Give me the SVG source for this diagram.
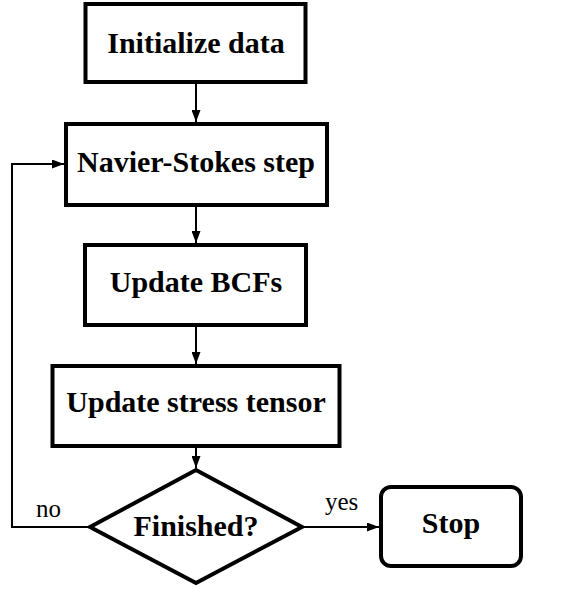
<svg xmlns="http://www.w3.org/2000/svg" width="570" height="590" viewBox="0 0 570 590">
  <style>
    .box { fill: #ffffff; stroke: #000000; stroke-width: 4; }
    .lbl { font-family: "Liberation Serif", "DejaVu Serif", serif; font-weight: bold; font-size: 30px; text-anchor: middle; fill: #000000; }
    .edge { font-family: "Liberation Serif", "DejaVu Serif", serif; font-size: 25px; fill: #000000; }
    .link { fill: none; stroke: #000000; stroke-width: 2; }
  </style>
  <defs>
    <marker id="arrow" viewBox="0 0 12 9" refX="12" refY="4.5" markerWidth="12" markerHeight="9" markerUnits="userSpaceOnUse" orient="auto">
      <path d="M0,0 L12,4.5 L0,9 Z" fill="#000000"/>
    </marker>
  </defs>
  <rect width="570" height="590" fill="#ffffff"/>

  <g id="connectors">
    <line class="link" x1="196" y1="84" x2="196" y2="122" marker-end="url(#arrow)"/>
    <line class="link" x1="196" y1="207" x2="196" y2="243" marker-end="url(#arrow)"/>
    <line class="link" x1="196" y1="327" x2="196" y2="364" marker-end="url(#arrow)"/>
    <line class="link" x1="196" y1="448" x2="196" y2="468" marker-end="url(#arrow)"/>
    <line class="link" x1="304" y1="527" x2="379" y2="527" marker-end="url(#arrow)"/>
    <polyline class="link" points="88,527 12,527 12,164 64,164" marker-end="url(#arrow)"/>
    <text class="edge" x="325" y="510">yes</text>
    <text class="edge" x="36" y="517">no</text>
  </g>

  <g id="init">
    <rect class="box" x="85.5" y="4" width="220" height="78"/>
    <text class="lbl" x="196" y="53">Initialize data</text>
  </g>

  <g id="navier-stokes">
    <rect class="box" x="66" y="124" width="261" height="81"/>
    <text class="lbl" x="196" y="172">Navier-Stokes step</text>
  </g>

  <g id="update-bcfs">
    <rect class="box" x="85" y="245" width="221" height="80"/>
    <text class="lbl" x="196" y="292">Update BCFs</text>
  </g>

  <g id="update-stress">
    <rect class="box" x="52.5" y="366" width="287" height="80"/>
    <text class="lbl" x="196" y="412">Update stress tensor</text>
  </g>

  <g id="finished">
    <polygon class="box" points="196,470 302,527 196,583 90,527"/>
    <text class="lbl" x="196" y="536">Finished?</text>
  </g>

  <g id="stop">
    <rect class="box" x="381" y="487" width="140" height="79" rx="10" ry="10"/>
    <text class="lbl" x="451" y="533">Stop</text>
  </g>
</svg>
